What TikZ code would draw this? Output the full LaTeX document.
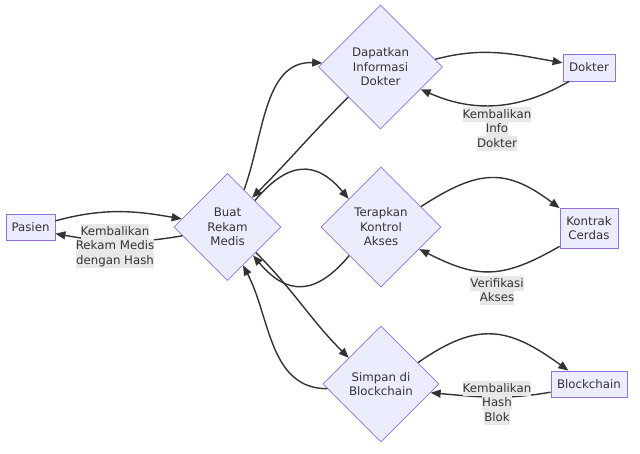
\documentclass[tikz,border=0pt]{standalone}
\usepackage{fontspec}
\setmainfont{DejaVu Sans}
\usetikzlibrary{shapes.geometric,arrows.meta}
\definecolor{nodefill}{HTML}{ECECFF}
\definecolor{nodeline}{HTML}{9370DB}
\definecolor{edgecol}{HTML}{333333}
\definecolor{labbg}{HTML}{E8E8E8}
\setlength\fboxsep{0pt}
\newcommand\lbline[1]{\colorbox{labbg}{\rule[-3.5pt]{0pt}{14.5pt}#1}}
\begin{document}
\begin{tikzpicture}[x=1pt,y=1pt,
  every node/.style={font=\fontsize{11.8}{14.5}\selectfont, text=edgecol},
  box/.style={draw=nodeline, fill=nodefill, line width=0.8pt, inner sep=0pt, align=center},
  dia/.style={box, diamond, aspect=1},
  edge/.style={draw=edgecol, line width=1.4pt, -{Triangle[length=10pt,width=8pt]}},
  lab/.style={inner sep=0pt, align=center}]
\useasboundingbox (0,0) rectangle (640,454);

\node[box, minimum width=49, minimum height=26] (pasien) at (30.5,227) {Pasien};
\node[dia, minimum width=107, minimum height=107] (buat) at (227.5,227) {Buat\\Rekam\\Medis};
\node[dia, minimum width=124, minimum height=124] (dap) at (380.5,387) {Dapatkan\\Informasi\\Dokter};
\node[box, minimum width=52, minimum height=27] (dok) at (589,386.5) {Dokter};
\node[dia, minimum width=120, minimum height=120] (ter) at (381,227) {Terapkan\\Kontrol\\Akses};
\node[box, minimum width=58, minimum height=40] (kon) at (589,226) {Kontrak\\Cerdas};
\node[dia, minimum width=116, minimum height=116] (sim) at (381,70) {Simpan di\\Blockchain};
\node[box, minimum width=76, minimum height=26] (blk) at (589,70) {Blockchain};

% edges
\draw[edge] (pasien.14) to[out=15,in=170] (buat.170);
\draw[edge] (buat.191) to[out=190,in=-10] (pasien.-15);
\draw[edge] (buat.66) to[out=70,in=178] (dap.176);
\draw[edge] (dap.223) to[out=225,in=45] (buat.50);
\draw[edge] (buat.44) to[out=50,in=130,looseness=1.4] (ter.139);
\draw[edge] (ter.222) to[out=230,in=-50,looseness=1.4] (buat.-48);
\draw[edge] (buat.-42) to[out=-45,in=135] (sim.141);
\draw[edge] (sim.185) to[out=180,in=-62] (buat.-68);
\draw[edge] (dap.8) to[out=15,in=170] (dok.170);
\draw[edge] (dok.215) to[out=210,in=-24] (dap.-29);
\draw[edge] (ter.27) to[out=33,in=143,looseness=1.25] (kon.146);
\draw[edge] (kon.212) to[out=210,in=-27,looseness=1.2] (ter.-30);
\draw[edge] (sim.30) to[out=35,in=144,looseness=1.25] (blk.147);
\draw[edge] (blk.192) to[out=190,in=-5] (sim.-10);

% edge labels
\node[lab] (l1) at (115,208) {\lbline{Kembalikan}\\\lbline{Rekam Medis}\\\lbline{dengan Hash}};
\node[lab] (l2) at (497,325) {\lbline{Kembalikan}\\\lbline{Info}\\\lbline{Dokter}};
\node[lab] (l3) at (497,163) {\lbline{Verifikasi}\\\lbline{Akses}};
\node[lab] (l4) at (497,51) {\lbline{Kembalikan}\\\lbline{Hash}\\\lbline{Blok}};
\end{tikzpicture}
\end{document}
